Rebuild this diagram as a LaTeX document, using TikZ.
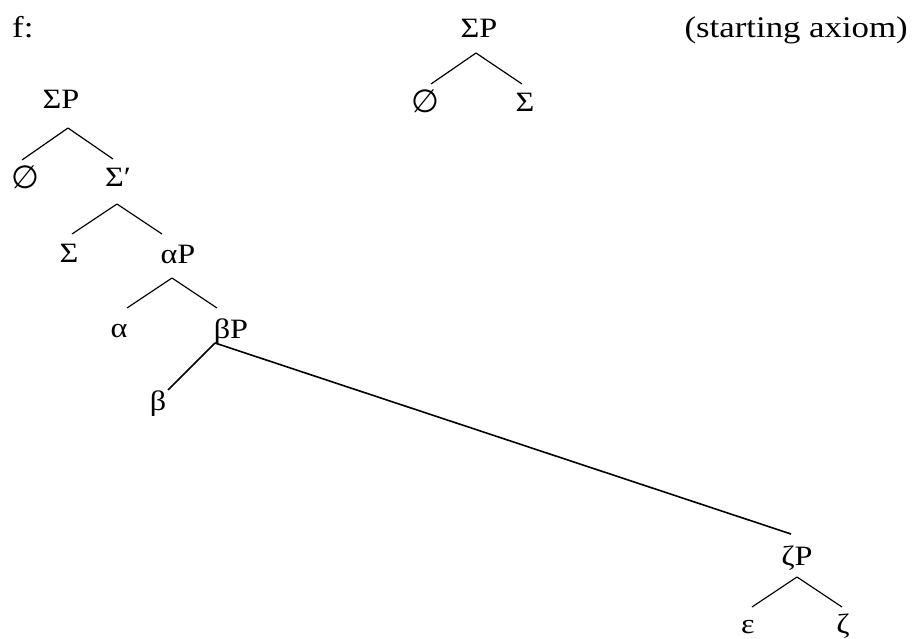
\documentclass[tikz,border=0pt]{standalone}
\usepackage{fontspec}
\setmainfont{Liberation Serif}
\newfontfamily\treefont{Liberation Serif}[FakeStretch=1.15]
\newfontfamily\notefont{Liberation Serif}[FakeStretch=1.16]
\newfontfamily\symfont{DejaVu Sans}
\begin{document}
\begin{tikzpicture}[x=1pt,y=-1pt,
  lab/.style={inner sep=0pt, anchor=base, font=\treefont\fontsize{28pt}{32pt}\selectfont},
  note/.style={inner sep=0pt, font=\notefont\fontsize{30pt}{34pt}\selectfont},
  empt/.style={inner sep=0pt, anchor=center, font=\symfont\fontsize{32pt}{36pt}\selectfont},
  br/.style={line width=1.2pt},
  brk/.style={line width=1.6pt}]
\useasboundingbox (0,0) rectangle (913,639);
% annotations
\node[note, anchor=base west] (flab) at (12,38) {f:};
\node[note, anchor=base east] (axiom) at (908,38) {(starting axiom)};
% top tree
\node[lab] (t0) at (479,38) {ΣP};
\node[empt] (t0e) at (425,101) {∅};
\node[lab] (t0s) at (525,112) {Σ};
\draw[br] ([shift={(-3pt,-15pt)}]t0.base) -- ([shift={(6pt,17pt)}]t0e.center);
\draw[br] ([shift={(-3pt,-15pt)}]t0.base) -- ([shift={(-3pt,28pt)}]t0s.base);
% left tree
\node[lab] (sp) at (61,109) {ΣP};
\node[empt] (se) at (25,177) {∅};
\node[lab] (sb) at (118,187) {Σ′};
\draw[br] ([shift={(7pt,-19pt)}]sp.base) -- ([shift={(-3pt,17pt)}]se.center);
\draw[br] ([shift={(7pt,-19pt)}]sp.base) -- ([shift={(-5pt,28pt)}]sb.base);
\node[lab] (ss) at (69,262) {Σ};
\node[lab] (ap) at (178,263) {αP};
\draw[br] ([shift={(-1pt,-17pt)}]sb.base) -- ([shift={(3pt,28pt)}]ss.base);
\draw[br] ([shift={(-1pt,-17pt)}]sb.base) -- ([shift={(-16pt,29pt)}]ap.base);
\node[lab] (al) at (119,337) {α};
\node[lab] (bp) at (231,338) {βP};
\draw[br] ([shift={(-6pt,-15pt)}]ap.base) -- ([shift={(8pt,29pt)}]al.base);
\draw[br] ([shift={(-6pt,-15pt)}]ap.base) -- ([shift={(-14pt,30pt)}]bp.base);
\node[lab] (be) at (158,410) {β};
\node[lab] (zp) at (797,565) {ζP};
\draw[brk] ([shift={(-16pt,-5pt)}]bp.base) -- ([shift={(10pt,20pt)}]be.base);
\draw[brk] ([shift={(-16pt,-5pt)}]bp.base) -- ([shift={(-6pt,31pt)}]zp.base);
\node[lab] (ep) at (748,633) {ε};
\node[lab] (ze) at (843,633) {ζ};
\draw[br] ([shift={(0pt,-12pt)}]zp.base) -- ([shift={(4pt,26pt)}]ep.base);
\draw[br] ([shift={(0pt,-12pt)}]zp.base) -- ([shift={(-1pt,26pt)}]ze.base);
\end{tikzpicture}
\end{document}
